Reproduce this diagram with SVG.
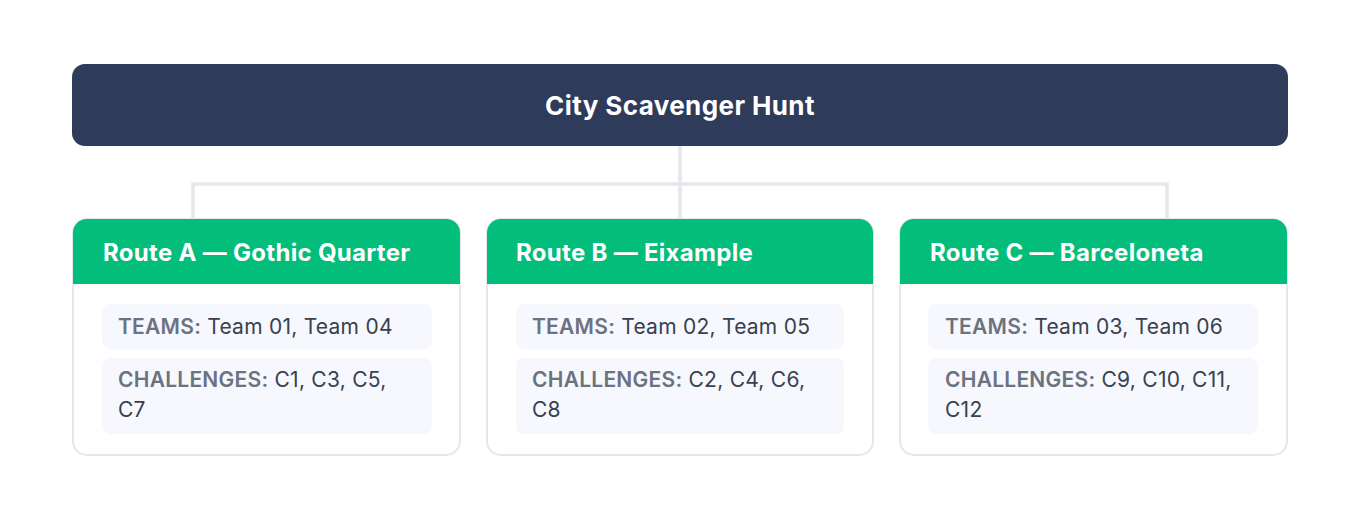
<svg xmlns="http://www.w3.org/2000/svg" width="1360" height="520" viewBox="0 0 1360 520">
<style>
.bg{fill:#ffffff}
.title{fill:#2e3b5a}
.title-t{font-family:Inter,"Noto Sans",sans-serif;font-weight:700;font-size:26px;fill:#ffffff;letter-spacing:0.4px}
.card{fill:#ffffff;stroke:#e5e7eb;stroke-width:2}
.head{fill:#03bd7b}
.head-t{font-family:Inter,"Noto Sans",sans-serif;font-weight:700;font-size:24px;fill:#ffffff;letter-spacing:0.3px}
.row{fill:#f6f8fd}
.row-t{font-family:Inter,"Noto Sans",sans-serif;font-size:21px;fill:#374151;letter-spacing:0.25px}
.lab{font-weight:600;fill:#6b7280}
.conn{fill:none;stroke:#e5e7eb;stroke-width:3.5}
</style>
<defs>
<clipPath id="cA"><rect x="73" y="219" width="387" height="236" rx="14"/></clipPath>
<clipPath id="cB"><rect x="487" y="219" width="386" height="236" rx="14"/></clipPath>
<clipPath id="cC"><rect x="900" y="219" width="387" height="236" rx="14"/></clipPath>
</defs>
<rect class="bg" x="0" y="0" width="1360" height="520"/>
<g id="connectors">
<path class="conn" d="M680 146 V219"/>
<path class="conn" d="M193 219 V184 H1167 V219"/>
</g>
<g id="root">
<rect class="title" x="72" y="64" width="1216" height="82" rx="13"/>
<text class="title-t" x="680" y="115" text-anchor="middle">City Scavenger Hunt</text>
</g>
<g id="routeA">
<rect class="card" x="73" y="219" width="387" height="236" rx="14"/>
<g clip-path="url(#cA)"><rect class="head" x="73" y="219" width="387" height="65"/></g>
<text class="head-t" x="103" y="261">Route A — Gothic Quarter</text>
<rect class="row" x="102" y="304" width="330" height="45" rx="8"/>
<text class="row-t" x="118" y="334"><tspan class="lab">TEAMS:</tspan> Team 01, Team 04</text>
<rect class="row" x="102" y="358" width="330" height="76" rx="8"/>
<text class="row-t" x="118" y="387"><tspan class="lab">CHALLENGES:</tspan> C1, C3, C5,</text>
<text class="row-t" x="118" y="417">C7</text>
</g>
<g id="routeB">
<rect class="card" x="487" y="219" width="386" height="236" rx="14"/>
<g clip-path="url(#cB)"><rect class="head" x="487" y="219" width="386" height="65"/></g>
<text class="head-t" x="516" y="261">Route B — Eixample</text>
<rect class="row" x="516" y="304" width="328" height="45" rx="8"/>
<text class="row-t" x="532" y="334"><tspan class="lab">TEAMS:</tspan> Team 02, Team 05</text>
<rect class="row" x="516" y="358" width="328" height="76" rx="8"/>
<text class="row-t" x="532" y="387"><tspan class="lab">CHALLENGES:</tspan> C2, C4, C6,</text>
<text class="row-t" x="532" y="417">C8</text>
</g>
<g id="routeC">
<rect class="card" x="900" y="219" width="387" height="236" rx="14"/>
<g clip-path="url(#cC)"><rect class="head" x="900" y="219" width="387" height="65"/></g>
<text class="head-t" x="930" y="261">Route C — Barceloneta</text>
<rect class="row" x="928" y="304" width="330" height="45" rx="8"/>
<text class="row-t" x="945" y="334"><tspan class="lab">TEAMS:</tspan> Team 03, Team 06</text>
<rect class="row" x="928" y="358" width="330" height="76" rx="8"/>
<text class="row-t" x="945" y="387"><tspan class="lab">CHALLENGES:</tspan> C9, C10, C11,</text>
<text class="row-t" x="945" y="417">C12</text>
</g>
</svg>
